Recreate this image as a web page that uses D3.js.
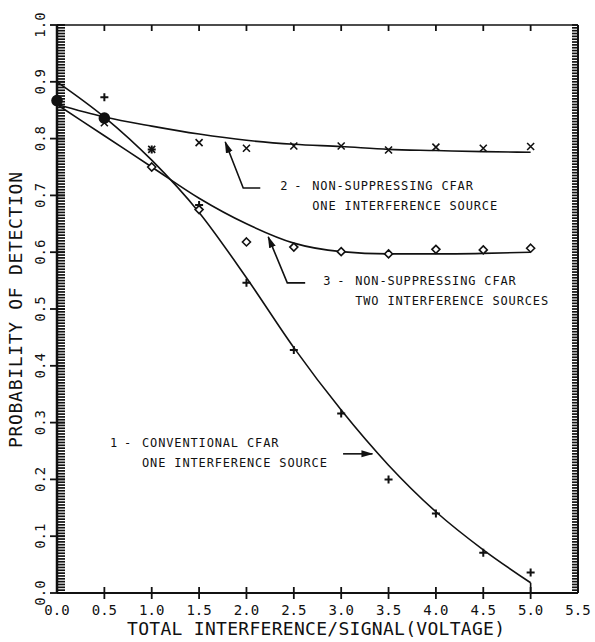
<!DOCTYPE html>
<html>
<head>
<meta charset="utf-8">
<script src="https://cdn.jsdelivr.net/npm/d3@7"></script>
<style>
  body { margin: 0; background: #fff; }
  text { font-family: "DejaVu Sans Mono", monospace; fill: #111; }
</style>
</head>
<body>
<script>
// values
var xTicks = [0, 0.5, 1.0, 1.5, 2.0, 2.5, 3.0, 3.5, 4.0, 4.5, 5.0, 5.5];
var yTicks = [0, 0.1, 0.2, 0.3, 0.4, 0.5, 0.6, 0.7, 0.8, 0.9, 1.0];

// fitted curves
var curve1 = [[0, 0.9], [0.5, 0.838], [1.0, 0.762], [1.5, 0.67], [2.0, 0.555], [2.5, 0.432],
              [3.0, 0.322], [3.5, 0.225], [4.0, 0.143], [4.5, 0.076], [5.0, 0.018]];
var curve2 = [[0, 0.86], [0.5, 0.838], [1.0, 0.822], [1.5, 0.808], [2.0, 0.797], [2.5, 0.79],
              [3.0, 0.786], [3.5, 0.781], [4.0, 0.779], [4.5, 0.777], [5.0, 0.776]];
var curve3 = [[0, 0.86], [0.5, 0.805], [1.0, 0.75], [1.5, 0.695], [2.0, 0.65], [2.5, 0.616],
              [3.0, 0.601], [3.5, 0.597], [4.0, 0.597], [4.5, 0.598], [5.0, 0.6]];

// measured points
var plusPts = [[0.5, 0.873], [1.0, 0.781], [1.5, 0.683], [2.0, 0.546], [2.5, 0.428],
               [3.0, 0.316], [3.5, 0.2], [4.0, 0.14], [4.5, 0.071], [5.0, 0.036]];
var crossPts = [[0.5, 0.828], [1.0, 0.781], [1.5, 0.793], [2.0, 0.783], [2.5, 0.787],
                [3.0, 0.787], [3.5, 0.78], [4.0, 0.785], [4.5, 0.783], [5.0, 0.786]];
var diamondPts = [[1.0, 0.75], [1.5, 0.675], [2.0, 0.618], [2.5, 0.609], [3.0, 0.601],
                  [3.5, 0.597], [4.0, 0.605], [4.5, 0.604], [5.0, 0.607]];
var blobPts = [[0, 0.867], [0.5, 0.836]]; // overlapping markers

var w = 595, h = 642;
var padL = 57, padR = 578, padT = 25, padB = 593;

var x = d3.scaleLinear().domain([0, 5.5]).range([padL, padR]);
var y = d3.scaleLinear().domain([0, 1]).range([padB, padT]);

var svg = d3.select('body').append('svg')
    .attr('width', w)
    .attr('height', h);

// frame
var ax = svg.append('g').attr('stroke', '#111').attr('fill', 'none');
ax.append('line').attr('x1', padL).attr('x2', padR).attr('y1', padB).attr('y2', padB).attr('stroke-width', 2);
ax.append('line').attr('x1', padL).attr('x2', padR).attr('y1', padT).attr('y2', padT).attr('stroke-width', 1.5);
ax.append('line').attr('x1', padL).attr('x2', padL).attr('y1', padT).attr('y2', padB).attr('stroke-width', 2.5);
ax.append('line').attr('x1', padR).attr('x2', padR).attr('y1', padT).attr('y2', padB).attr('stroke-width', 2);

// dense comb ticks on both sides
var minor = d3.range(0, 1.0001, 0.005);
ax.selectAll('.ml').data(minor).enter().append('line')
    .attr('x1', padL).attr('x2', padL + 8)
    .attr('y1', function(d) { return y(d); }).attr('y2', function(d) { return y(d); })
    .attr('stroke-width', 1.7);
ax.selectAll('.mr').data(minor).enter().append('line')
    .attr('x1', padR - 6).attr('x2', padR)
    .attr('y1', function(d) { return y(d); }).attr('y2', function(d) { return y(d); })
    .attr('stroke-width', 1.7);
ax.selectAll('.yt').data(yTicks).enter().append('line')
    .attr('x1', padL - 7).attr('x2', padL + 8)
    .attr('y1', function(d) { return y(d); }).attr('y2', function(d) { return y(d); })
    .attr('stroke-width', 1.8);

// x ticks, bottom and top
ax.selectAll('.xt').data(xTicks.slice(1, -1)).enter().append('line')
    .attr('x1', function(d) { return x(d); }).attr('x2', function(d) { return x(d); })
    .attr('y1', padB - 6).attr('y2', padB + 6)
    .attr('stroke-width', 1.8);
ax.selectAll('.xtt').data(xTicks.slice(1, -1)).enter().append('line')
    .attr('x1', function(d) { return x(d); }).attr('x2', function(d) { return x(d); })
    .attr('y1', padT).attr('y2', padT + 6)
    .attr('stroke-width', 1.8);

// tick labels
svg.selectAll('.xl').data(xTicks).enter().append('text')
    .attr('x', function(d) { return x(d); })
    .attr('y', 615)
    .attr('text-anchor', 'middle')
    .style('font-size', '14px')
    .text(function(d) { return d3.format('.1f')(d); });

svg.selectAll('.yl').data(yTicks).enter().append('text')
    .attr('transform', function(d) { return 'translate(40,' + y(d) + ') rotate(-90)'; })
    .attr('text-anchor', 'middle')
    .attr('dominant-baseline', 'central')
    .style('font-size', '14px')
    .text(function(d) { return d3.format('.1f')(d); });

// axis titles
svg.append('text')
    .attr('x', 316).attr('y', 635)
    .attr('text-anchor', 'middle')
    .style('font-size', '18px')
    .attr('textLength', 378)
    .text('TOTAL INTERFERENCE/SIGNAL(VOLTAGE)');

svg.append('text')
    .attr('transform', 'translate(15,310) rotate(-90)')
    .attr('text-anchor', 'middle')
    .attr('dominant-baseline', 'central')
    .style('font-size', '18px')
    .attr('textLength', 276)
    .text('PROBABILITY OF DETECTION');

// curves
var line = d3.line()
    .x(function(d) { return x(d[0]); })
    .y(function(d) { return y(d[1]); })
    .curve(d3.curveMonotoneX);

[curve1, curve2, curve3].forEach(function(c) {
  svg.append('path')
      .attr('d', line(c))
      .attr('fill', 'none')
      .attr('stroke', '#111')
      .attr('stroke-width', 1.6);
});
// curve 1 drops onto the axis at 5.0
svg.append('line')
    .attr('x1', x(5.0)).attr('x2', x(5.0))
    .attr('y1', y(curve1[curve1.length - 1][1])).attr('y2', y(0))
    .attr('stroke', '#111').attr('stroke-width', 1.6);

// markers
var mk = svg.append('g').attr('stroke', '#111').attr('fill', 'none').attr('stroke-width', 1.6);

mk.selectAll('.p').data(plusPts).enter().append('path')
    .attr('transform', function(d) { return 'translate(' + x(d[0]) + ',' + y(d[1]) + ')'; })
    .attr('d', 'M-4,0H4M0,-4V4')
    .attr('stroke-width', 2);

mk.selectAll('.c').data(crossPts).enter().append('path')
    .attr('transform', function(d) { return 'translate(' + x(d[0]) + ',' + y(d[1]) + ')'; })
    .attr('d', 'M-3.5,-3.5L3.5,3.5M-3.5,3.5L3.5,-3.5');

mk.selectAll('.d').data(diamondPts).enter().append('path')
    .attr('transform', function(d) { return 'translate(' + x(d[0]) + ',' + y(d[1]) + ')'; })
    .attr('d', 'M0,-4L4,0L0,4L-4,0Z')
    .attr('fill', '#fff');

mk.selectAll('.b').data(blobPts).enter().append('circle')
    .attr('cx', function(d) { return x(d[0]); })
    .attr('cy', function(d) { return y(d[1]); })
    .attr('r', 5)
    .attr('fill', '#111');

// annotations: arrow path points in data units, label anchor
var notes = [
  { num: '1', lines: ['CONVENTIONAL CFAR', 'ONE INTERFERENCE SOURCE'], at: [0.56, 0.257],
    arrow: [[3.02, 0.245], [3.33, 0.245]] },
  { num: '2', lines: ['NON-SUPPRESSING CFAR', 'ONE INTERFERENCE SOURCE'], at: [2.357, 0.71],
    arrow: [[2.146, 0.713], [1.966, 0.713], [1.776, 0.794]] },
  { num: '3', lines: ['NON-SUPPRESSING CFAR', 'TWO INTERFERENCE SOURCES'], at: [2.81, 0.543],
    arrow: [[2.62, 0.546], [2.431, 0.546], [2.23, 0.627]] }
];

svg.append('defs').append('marker')
    .attr('id', 'head')
    .attr('viewBox', '0 -5 12 10')
    .attr('refX', 11).attr('refY', 0)
    .attr('markerWidth', 12).attr('markerHeight', 10)
    .attr('markerUnits', 'userSpaceOnUse')
    .attr('orient', 'auto')
    .append('path')
    .attr('d', 'M0,-3.5L12,0L0,3.5Z')
    .attr('fill', '#111');

var arrowLine = d3.line()
    .x(function(d) { return x(d[0]); })
    .y(function(d) { return y(d[1]); });

notes.forEach(function(n) {
  svg.append('path')
      .attr('d', arrowLine(n.arrow))
      .attr('fill', 'none')
      .attr('stroke', '#111')
      .attr('stroke-width', 1.6)
      .attr('marker-end', 'url(#head)');

  var tx = x(n.at[0]), ty = y(n.at[1]);
  var g = svg.append('g').style('font-size', '12px').style('letter-spacing', '0.85px');
  g.append('text').attr('x', tx).attr('y', ty).text(n.num);
  g.append('text').attr('x', tx + 14).attr('y', ty).text('-');
  n.lines.forEach(function(s, i) {
    g.append('text').attr('x', tx + 32).attr('y', ty + i * 20).text(s);
  });
});
</script>
</body>
</html>
